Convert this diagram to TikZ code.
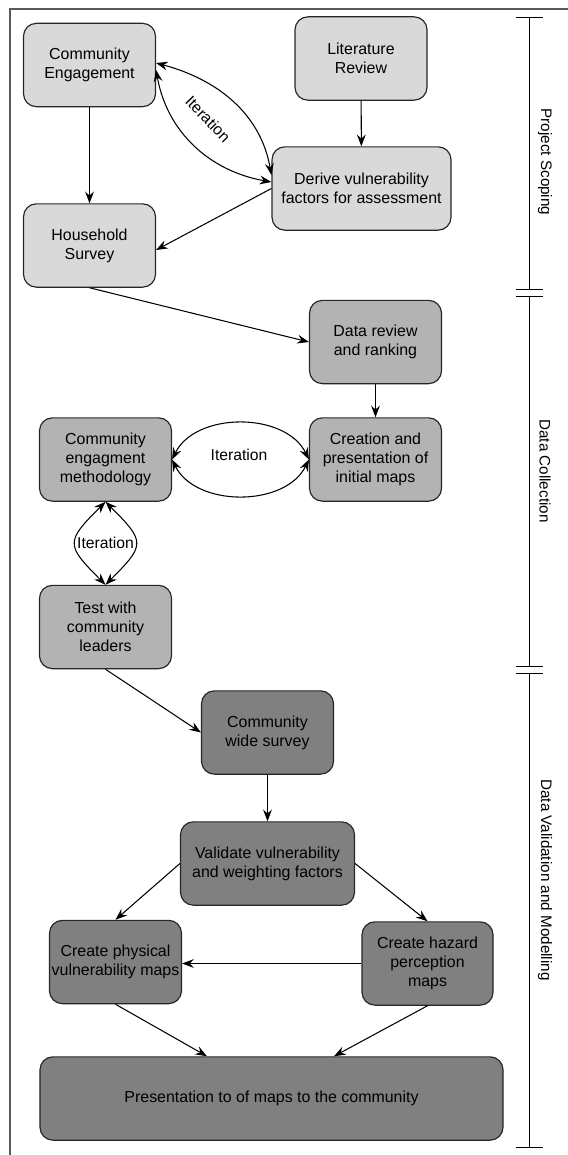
\documentclass[tikz,border=0pt]{standalone}
\usepackage{fontspec}
\setmainfont{Liberation Sans}
\usepackage{tikz}
\usetikzlibrary{arrows.meta, positioning}

\definecolor{scopinggray}{HTML}{D9D9D9}
\definecolor{collectgray}{HTML}{B3B3B3}
\definecolor{modelgray}{HTML}{808080}

\begin{document}
\begin{tikzpicture}[x=0.3mm, y=0.3mm,
        box/.style={draw=black!85, line width=1pt, rounded corners=11pt, minimum width=3.96cm, minimum height=2.5cm, align=center, font=\fontsize{13.6}{16.2}\selectfont},
        scopingbox/.style={box, fill=scopinggray},
        collectbox/.style={box, fill=collectgray},
        modelbox/.style={box, fill=modelgray},
        arrow/.style={-{Stealth[length=10pt, width=7.5pt, inset=3.5pt]}, line width=0.9pt},
        dblarrow/.style={{Stealth[length=10pt, width=7.5pt, inset=3.5pt]}-{Stealth[length=10pt, width=7.5pt, inset=3.5pt]}, line width=0.9pt},
        iterlabel/.style={font=\fontsize{13.4}{15}\selectfont, inner sep=0pt},
        phaselabel/.style={rotate=-90, font=\fontsize{13}{15}\selectfont},
        bracket/.style={{Bar[width=8.1mm]}-{Bar[width=8.1mm]}, line width=0.8pt}
    ]
    \useasboundingbox (0,0) rectangle (568,-1155);

    % Outer frame (only top and left edges visible)
    \draw[black!65, line width=1.2pt] (568,-9) -- (10,-9) -- (10,-1155);

    % Project scoping
    \node[scopingbox] (commeng) at (89.5, -65) {Community\\Engagement};
    \node[scopingbox] (litrev) at (361, -58.5) {Literature\\Review};
    \node[scopingbox, minimum width=5.37cm] (derive) at (361.5, -188.5) {Derive vulnerability\\factors for assessment};
    \node[scopingbox] (household) at (89.5, -245.5) {Household\\Survey};

    % Data collection
    \node[collectbox] (datareview) at (375.5, -342) {Data review\\and ranking};
    \node[collectbox] (initmaps) at (375.5, -459.5) {Creation and\\presentation of\\initial maps};
    \node[collectbox] (method) at (105.5, -459.5) {Community\\engagment\\methodology};
    \node[collectbox] (leaders) at (105.5, -627) {Test with\\community\\leaders};

    % Data validation and modelling
    \node[modelbox] (widesurvey) at (267.5, -732.5) {Community\\wide survey};
    \node[modelbox, minimum width=5.22cm] (validate) at (267.5, -863.5) {Validate vulnerability\\and weighting factors};
    \node[modelbox, inner xsep=1pt] (physmaps) at (115.5, -962) {Create physical\\vulnerability maps};
    \node[modelbox, minimum width=3.93cm] (hazmaps) at (427.5, -963.5) {Create hazard\\perception\\maps};
    \node[modelbox, minimum width=13.89cm] (present) at (271.5, -1098.5) {Presentation to of maps to the community};

    % Straight arrows
    \foreach \a/\b in {commeng/household, litrev/derive, datareview/initmaps, widesurvey/validate}
        \draw[arrow] (\a) -- (\b);
    \draw[arrow] (derive.west) -- ([yshift=-1.35mm]household.east);
    \draw[arrow] (household.south) -- (datareview.west);
    \draw[arrow] (leaders.south) -- (widesurvey.west);
    \draw[arrow] (validate.west) -- (physmaps.north);
    \draw[arrow] (validate.east) -- (hazmaps.north);
    \draw[arrow] (hazmaps.west) -- (hazmaps.west -| physmaps.east);
    \draw[arrow] (physmaps.south) -- ([xshift=-1.935cm]present.north);
    \draw[arrow] (hazmaps.south) -- ([xshift=1.875cm]present.north);

    % Iteration loops
    \draw[dblarrow] ([yshift=0.6mm]commeng.east) to[out=-15, in=100] ([yshift=4.05mm]derive.west);
    \draw[dblarrow] ([yshift=-1.5mm]commeng.east) to[out=-80, in=170] ([yshift=1.95mm]derive.west);
    \node[iterlabel, rotate=-46] (iter1) at (208, -119) {Iteration};

    \draw[dblarrow] (method.east) to[bend left=64] (initmaps.west);
    \draw[dblarrow] (method.east) to[bend right=64] (initmaps.west);
    \node[iterlabel] (iter2) at (239, -455) {Iteration};

    \draw[dblarrow] (method.south) to[out=225, in=135, looseness=1.75] (leaders.north);
    \draw[dblarrow] (method.south) to[out=-45, in=45, looseness=1.75] (leaders.north);
    \node[iterlabel] (iter3) at (105.5, -543) {Iteration};

    % Phase brackets
    \draw[bracket] (529, -17) -- (529, -290);
    \draw[bracket] (529, -296) -- (529, -667);
    \draw[bracket] (529, -673) -- (529, -1148);
    \node[phaselabel] (scopinglbl) at (545, -162) {Project Scoping};
    \node[phaselabel] (collectlbl) at (545, -471) {Data Collection};
    \node[phaselabel] (modellbl) at (545, -880) {Data Validation and Modelling};

\end{tikzpicture}
\end{document}
